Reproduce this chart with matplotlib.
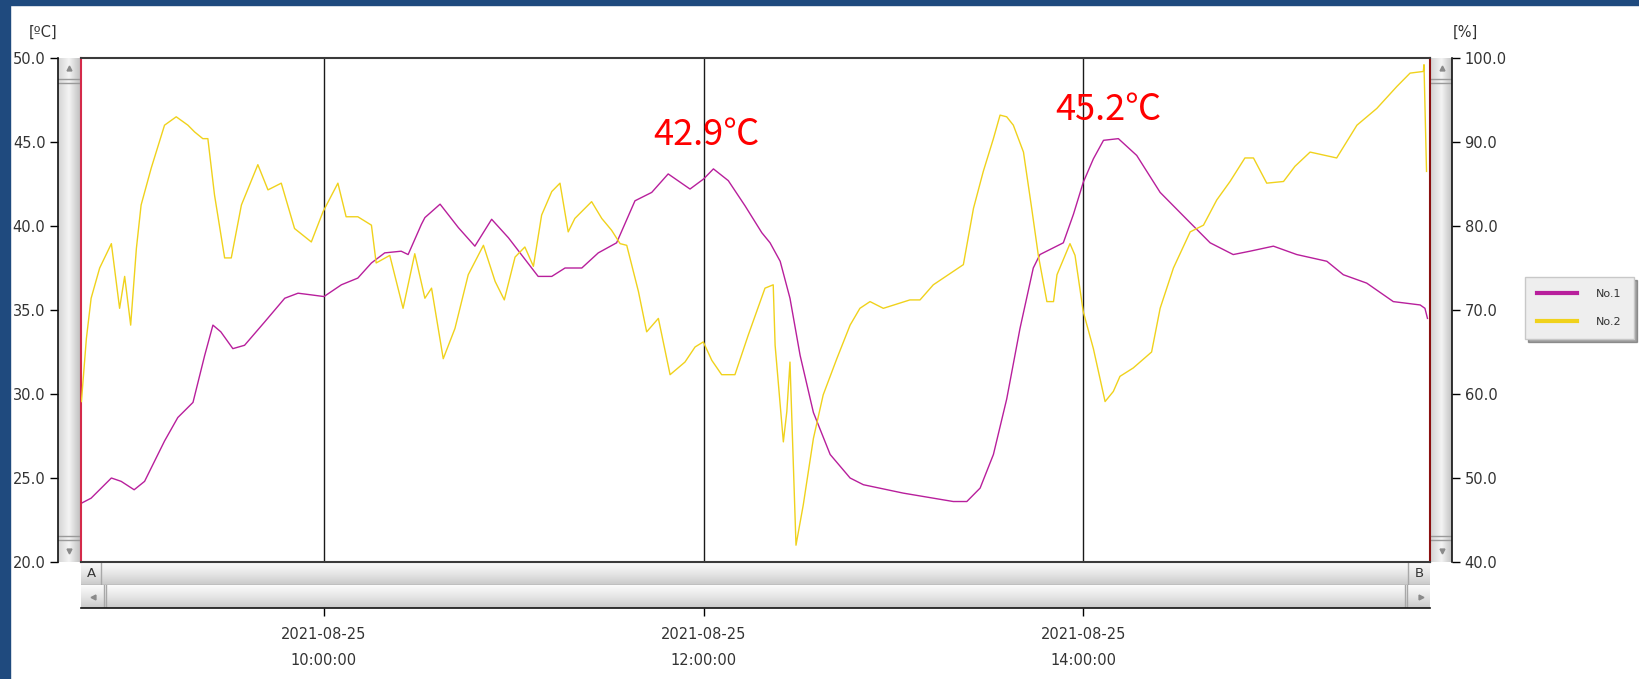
import matplotlib
matplotlib.use("Agg")
import matplotlib.pyplot as plt
import matplotlib.dates as mdates
from matplotlib.patches import Rectangle
import numpy as np
import pandas as pd

# ---------------- data ----------------
DATE = "2021-08-25"

no1_time = ["08:43:20", "08:46:24", "08:52:48", "08:55:54", "09:00:00", "09:03:18", "09:09:36",
            "09:13:48", "09:18:36", "09:22:18", "09:24:54", "09:27:24", "09:31:12", "09:34:54",
            "09:41:18", "09:47:36", "09:51:48", "09:56:00", "10:00:00", "10:05:30", "10:10:42",
            "10:15:00", "10:19:12", "10:24:24", "10:26:36", "10:30:48", "10:31:54", "10:36:42",
            "10:42:30", "10:47:42", "10:53:00", "10:58:18", "11:07:42", "11:12:00", "11:16:12",
            "11:21:30", "11:26:42", "11:32:30", "11:38:18", "11:43:36", "11:48:48", "11:55:42",
            "12:00:00", "12:03:06", "12:07:48", "12:13:06", "12:18:24", "12:21:00", "12:24:12",
            "12:27:18", "12:30:30", "12:34:42", "12:40:00", "12:46:18", "12:50:30", "13:03:06",
            "13:18:54", "13:23:12", "13:27:24", "13:31:36", "13:35:48", "13:40:00", "13:44:12",
            "13:46:18", "13:53:42", "13:56:54", "14:00:00", "14:03:12", "14:06:24", "14:11:06",
            "14:16:54", "14:24:18", "14:32:42", "14:40:06", "14:47:24", "14:52:42", "15:00:06",
            "15:07:30", "15:17:00", "15:22:12", "15:29:36", "15:38:00", "15:46:30", "15:48:00",
            "15:48:48"]
no1_temp = [23.5, 23.8, 25.0, 24.8, 24.3, 24.8, 27.2,
            28.6, 29.5, 32.3, 34.1, 33.7, 32.7, 32.9,
            34.3, 35.7, 36.0, 35.9, 35.8, 36.5, 36.9,
            37.8, 38.4, 38.5, 38.3, 40.1, 40.5, 41.3,
            39.9, 38.8, 40.4, 39.3, 37.0, 37.0, 37.5,
            37.5, 38.4, 39.0, 41.5, 42.0, 43.1, 42.2,
            42.8, 43.4, 42.7, 41.2, 39.6, 39.0, 37.9,
            35.7, 32.3, 28.9, 26.4, 25.0, 24.6, 24.1,
            23.6, 23.6, 24.4, 26.4, 29.7, 33.9, 37.5,
            38.3, 39.0, 40.7, 42.6, 44.0, 45.1, 45.2,
            44.2, 42.0, 40.4, 39.0, 38.3, 38.5, 38.8,
            38.3, 37.9, 37.1, 36.6, 35.5, 35.3, 35.1,
            34.5]

no2_time = ["08:43:20", "08:44:54", "08:46:24", "08:49:06", "08:52:48", "08:55:24", "08:57:00",
            "08:58:54", "09:00:42", "09:02:12", "09:05:24", "09:09:36", "09:13:18", "09:17:00",
            "09:19:06", "09:21:42", "09:23:18", "09:25:24", "09:28:36", "09:30:42", "09:33:54",
            "09:39:06", "09:42:18", "09:46:30", "09:50:42", "09:56:00", "09:59:42", "10:04:24",
            "10:07:00", "10:10:42", "10:15:00", "10:16:30", "10:20:48", "10:25:00", "10:28:42",
            "10:31:54", "10:34:00", "10:37:42", "10:41:24", "10:45:36", "10:50:24", "10:54:06",
            "10:57:00", "11:00:24", "11:03:30", "11:06:12", "11:08:48", "11:12:00", "11:14:36",
            "11:17:12", "11:19:18", "11:24:36", "11:27:48", "11:30:54", "11:33:36", "11:35:42",
            "11:39:24", "11:42:00", "11:45:42", "11:49:24", "11:54:06", "11:57:18", "11:59:54",
            "12:02:36", "12:05:42", "12:09:54", "12:14:06", "12:19:24", "12:22:00", "12:22:36",
            "12:25:12", "12:26:18", "12:27:18", "12:29:12", "12:31:30", "12:34:42", "12:37:48",
            "12:42:06", "12:46:18", "12:49:24", "12:52:36", "12:56:48", "13:05:12", "13:08:24",
            "13:12:36", "13:18:54", "13:22:06", "13:25:18", "13:28:24", "13:31:36", "13:33:42",
            "13:35:48", "13:37:54", "13:41:06", "13:43:42", "13:45:48", "13:48:30", "13:50:36",
            "13:51:42", "13:55:48", "13:57:24", "14:00:00", "14:03:12", "14:06:54", "14:09:30",
            "14:11:36", "14:15:48", "14:21:36", "14:24:18", "14:28:30", "14:33:48", "14:38:00",
            "14:42:12", "14:46:24", "14:51:06", "14:53:48", "14:58:00", "15:03:18", "15:06:54",
            "15:11:42", "15:20:06", "15:26:30", "15:32:48", "15:39:06", "15:43:18", "15:47:30",
            "15:47:42", "15:48:30"]
no2_rh = [59.1, 66.6, 71.4, 75.0, 77.9, 70.2, 74.0,
          68.2, 77.3, 82.5, 86.9, 92.0, 93.0, 92.0,
          91.2, 90.4, 90.4, 83.7, 76.2, 76.2, 82.5,
          87.3, 84.3, 85.1, 79.7, 78.1, 81.7, 85.1,
          81.1, 81.1, 80.1, 75.6, 76.5, 70.2, 76.7,
          71.4, 72.6, 64.2, 67.8, 74.2, 77.7, 73.4,
          71.2, 76.3, 77.5, 75.2, 81.3, 84.1, 85.1,
          79.3, 80.9, 82.9, 80.9, 79.5, 77.9, 77.7,
          72.2, 67.4, 69.0, 62.3, 63.8, 65.6, 66.2,
          64.0, 62.3, 62.3, 67.0, 72.6, 73.0, 65.8,
          54.3, 57.9, 63.8, 42.0, 46.8, 54.7, 59.9,
          64.2, 68.2, 70.2, 71.0, 70.2, 71.2, 71.2,
          73.0, 74.6, 75.4, 82.1, 86.5, 90.4, 93.2,
          93.0, 92.0, 88.8, 82.1, 76.5, 71.0, 71.0,
          74.2, 77.9, 76.5, 69.8, 65.4, 59.1, 60.3,
          62.1, 63.1, 65.0, 70.2, 75.0, 79.3, 80.1,
          83.1, 85.3, 88.1, 88.1, 85.1, 85.3, 87.1,
          88.8, 88.1, 92.0, 94.0, 96.6, 98.2, 98.4,
          99.2, 86.5]

x_range = ["08:43:12", "15:49:36"]
grid_times = ["10:00:00", "12:00:00", "14:00:00"]
grid_labels = ["2021-08-25\n10:00:00", "2021-08-25\n12:00:00", "2021-08-25\n14:00:00"]
temp_ticks = [20, 25, 30, 35, 40, 45, 50]
rh_ticks = [40, 50, 60, 70, 80, 90, 100]
series_names = ["No.1", "No.2"]
ann_texts = ["42.9\u2103", "45.2\u2103"]
ann_times = ["11:44:00", "13:51:00"]
ann_temps = [44.8, 46.3]


def to_num(times):
    return mdates.date2num(pd.to_datetime([f"{DATE} {s}" for s in times]).to_pydatetime())


# ---------------- figure / layout helpers ----------------
W, H = 1639, 679
fig = plt.figure(figsize=(W / 100, H / 100), dpi=100)
fig.patch.set_facecolor("white")


def box(x0, y0, x1, y1):
    return [x0 / W, 1 - y1 / H, (x1 - x0) / W, (y1 - y0) / H]


def hexrgb(c):
    return np.array(matplotlib.colors.to_rgb(c))


def gradient_axes(x0, y0, x1, y1, stops, vertical, z=1):
    a = fig.add_axes(box(x0, y0, x1, y1), zorder=z)
    n = 64
    g = np.linspace(0, 1, n)
    pos = np.linspace(0, 1, len(stops))
    cols = np.stack([np.interp(g, pos, [hexrgb(s)[k] for s in stops]) for k in range(3)], axis=-1)
    img = cols[:, None, :] if vertical else cols[None, :, :]
    a.imshow(img, aspect="auto", extent=(0, 1, 0, 1), interpolation="bilinear")
    a.set_xlim(0, 1)
    a.set_ylim(0, 1)
    a.axis("off")
    return a


BLUE = "#1f4a7e"
C1 = "#b81f9c"
C2 = "#f0d21c"
TXT = "#333333"

xmin, xmax = to_num(x_range)

# ---------------- scrollbars (decoration) ----------------
for (sx0, sx1) in [(58, 80), (1431, 1452)]:
    sb = gradient_axes(sx0, 58, sx1, 562, ["#d4d4d4", "#f4f4f4", "#c2c2c2"], vertical=False)
    hh = 504.0
    sb.plot([0.5], [1 - 10 / hh], marker="^", ms=3.5, color="#8a8a8a")
    sb.plot([0.5], [1 - 493 / hh], marker="v", ms=3.5, color="#8a8a8a")
    for yy in (21, 25, 478, 482):
        sb.axhline(1 - yy / hh, color="#9a9a9a", lw=1)

row_stops = ["#fbfbfb", "#e6e6e6", "#c9c9c9"]
r1 = gradient_axes(81, 562, 1430, 585, row_stops, vertical=True)
r1.axvline((101 - 81) / 1349, color="#a8a8a8", lw=1)
r1.axvline((1408 - 81) / 1349, color="#a8a8a8", lw=1)
r1.axhline(0.02, color="#9a9a9a", lw=1)
r1.text((91 - 81) / 1349, 0.5, "A", ha="center", va="center", fontsize=9.5, color=TXT)
r1.text((1419 - 81) / 1349, 0.5, "B", ha="center", va="center", fontsize=9.5, color=TXT)

r2 = gradient_axes(81, 585, 1430, 608, row_stops, vertical=True)
for xx in (104, 106, 1405, 1407):
    r2.axvline((xx - 81) / 1349, color="#a8a8a8", lw=1)
r2.plot([(93 - 81) / 1349], [0.5], marker="<", ms=3.5, color="#8a8a8a")
r2.plot([(1421 - 81) / 1349], [0.5], marker=">", ms=3.5, color="#8a8a8a")

# ---------------- y scales (outer axes lines with ticks) ----------------
axs = fig.add_axes(box(58, 58, 1452, 562), zorder=2)
axs.patch.set_visible(False)
for s in ("top", "bottom", "right"):
    axs.spines[s].set_visible(False)
axs.spines["left"].set_color("#111111")
axs.spines["left"].set_linewidth(1.2)
axs.set_ylim(20, 50)
axs.set_yticks(temp_ticks)
axs.set_yticklabels([f"{v:.1f}" for v in temp_ticks])
axs.set_xticks([])
axs.tick_params(axis="y", direction="out", length=6, width=1, labelsize=10.5,
                labelcolor=TXT, pad=3)

axr = axs.twinx()
axr.patch.set_visible(False)
for s in ("top", "bottom", "left"):
    axr.spines[s].set_visible(False)
axr.spines["right"].set_color("#111111")
axr.spines["right"].set_linewidth(1.2)
axr.set_ylim(40, 100)
axr.set_yticks(rh_ticks)
axr.set_yticklabels([f"{v:.1f}" for v in rh_ticks])
axr.tick_params(axis="y", direction="out", length=6, width=1, labelsize=10.5,
                labelcolor=TXT, pad=3)

fig.text(43 / W, 1 - 32 / H, "[\u00baC]", ha="center", va="center", fontsize=10.5, color=TXT)
fig.text(1465 / W, 1 - 32 / H, "[%]", ha="center", va="center", fontsize=10.5, color=TXT)

# ---------------- x scale (below scrollbars) ----------------
axx = fig.add_axes(box(81, 562, 1430, 608), zorder=2)
axx.patch.set_visible(False)
for s in ("top", "left", "right"):
    axx.spines[s].set_visible(False)
axx.spines["bottom"].set_color("#111111")
axx.spines["bottom"].set_linewidth(1.2)
axx.set_xlim(xmin, xmax)
axx.set_xticks(to_num(grid_times))
axx.set_xticklabels(grid_labels)
axx.set_yticks([])
axx.tick_params(axis="x", direction="out", length=6, width=1, labelsize=10.5,
                labelcolor=TXT, pad=8)
for lbl in axx.get_xticklabels():
    lbl.set_linespacing(1.85)

# ---------------- main plot ----------------
ax = fig.add_axes(box(81, 58, 1430, 562), zorder=3)
ax.set_facecolor("white")
ax.set_xlim(xmin, xmax)
ax.set_ylim(20, 50)
ax.set_xticks(to_num(grid_times))
ax.tick_params(axis="x", length=0, labelbottom=False)
ax.set_yticks([])
ax.grid(axis="x", color="#1a1a1a", lw=1)
ax.spines["top"].set_color("#3a3a3a")
ax.spines["bottom"].set_color("#3a3a3a")
ax.spines["left"].set_color("#d42a4a")
ax.spines["right"].set_color("#8b1010")
for s in ax.spines.values():
    s.set_linewidth(1.5)

ax2 = ax.twinx()
ax2.set_ylim(40, 100)
ax2.set_yticks([])
for s in ax2.spines.values():
    s.set_visible(False)

l1, = ax.plot(to_num(no1_time), no1_temp, color=C1, lw=1.0, label=series_names[0])
l2, = ax2.plot(to_num(no2_time), no2_rh, color=C2, lw=1.0, label=series_names[1])

for txt, tm, tv in zip(ann_texts, ann_times, ann_temps):
    ax2.text(to_num([tm])[0], 40 + (tv - 20) * 2, txt, color="red", fontsize=26,
             family=["Noto Sans CJK SC", "DejaVu Sans"], ha="left", va="baseline", zorder=5)

# ---------------- legend ----------------
leg = fig.legend([l1, l2], series_names, loc="upper left",
                 bbox_to_anchor=(1525 / W, 1 - 277 / H), bbox_transform=fig.transFigure,
                 frameon=True, fancybox=False, shadow=True, fontsize=8,
                 handlelength=3.6, handletextpad=1.7, labelspacing=1.6,
                 borderpad=1.1, borderaxespad=0)
leg.get_frame().set_facecolor("#eeeeee")
leg.get_frame().set_edgecolor("#c8c8c8")
for ln in leg.get_lines():
    ln.set_linewidth(3)
for t in leg.get_texts():
    t.set_color(TXT)

# ---------------- blue window frame ----------------
fig.add_artist(Rectangle((0, 1 - 5 / H), 1, 5 / H, transform=fig.transFigure,
                         color=BLUE, zorder=20))
fig.add_artist(Rectangle((0, 0), 10 / W, 1, transform=fig.transFigure,
                         color=BLUE, zorder=20))

fig.savefig("out.png", dpi=100)
